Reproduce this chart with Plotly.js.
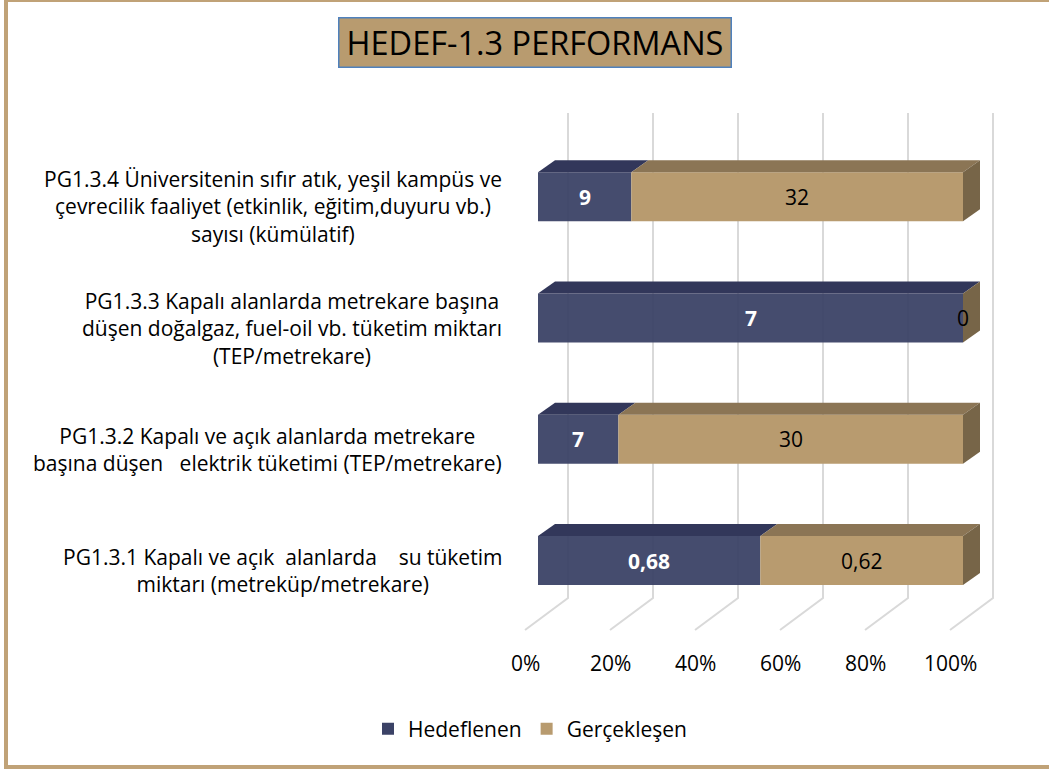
<!DOCTYPE html>
<html><head><meta charset="utf-8">
<script src="https://cdn.plot.ly/plotly-3.0.1.min.js"></script>
<style>html,body{margin:0;padding:0;background:#fff}#chart{width:1049px;height:771px}</style>
</head><body><div id="chart"></div>
<script>
const categories = [
  "PG1.3.1 Kapalı ve açık\u00a0 alanlarda\u00a0\u00a0\u00a0 su tüketim<br>miktarı (metreküp/metrekare)",
  "PG1.3.2 Kapalı ve açık alanlarda metrekare<br>başına düşen\u00a0\u00a0 elektrik tüketimi (TEP/metrekare)",
  "PG1.3.3 Kapalı alanlarda metrekare başına<br>düşen doğalgaz, fuel-oil vb. tüketim miktarı<br>(TEP/metrekare)",
  "PG1.3.4 Üniversitenin sıfır atık, yeşil kampüs ve<br>çevrecilik faaliyet (etkinlik, eğitim,duyuru vb.)<br>sayısı (kümülatif)"
];
const hedeflenen = [0.68, 7, 7, 9];
const gerceklesen = [0.62, 30, 0, 32];
const tickLabels = ["0%", "20%", "40%", "60%", "80%", "100%"];
const tickValues = [0, 20, 40, 60, 80, 100];
const seriesNames = ["Hedeflenen", "Gerçekleşen"];
const titleText = "HEDEF-1.3 PERFORMANS";

const FONT = "'Open Sans', 'Noto Sans', sans-serif";
const FS = 21;
const navy = "#3B4266", navyTop = "#32375A";
const tan = "#B89B6F", tanTop = "#8B7555", tanSide = "#776548";

const W = 1049, H = 771;
const PL = 500, PR = 1040, PT = 100, PB = 640;
const X0 = 538, pxX = 4.25, Y0 = 560.5, pxY = 121.25;
const dX = px => (px - X0) / pxX;
const dY = py => (Y0 - py) / pxY;
const pX = px => (px - PL) / (PR - PL);
const pY = py => (PB - py) / (PB - PT);

const BW = 0.404;
const dxu = 17 / pxX, dyu = 12 / pxY;

const idx = categories.map((_, i) => i);
const totals = hedeflenen.map((v, i) => v + gerceklesen[i]);
const pctH = hedeflenen.map((v, i) => v / totals[i] * 100);
const pctG = gerceklesen.map((v, i) => v / totals[i] * 100);
const fmt = v => String(v).replace('.', ',');

const traces = [
  {type: 'bar', orientation: 'h', name: seriesNames[0], y: idx, x: pctH, width: BW,
   marker: {color: navy, opacity: 0.95}, hoverinfo: 'skip'},
  {type: 'bar', orientation: 'h', name: seriesNames[1], y: idx, x: pctG, base: pctH, width: BW,
   marker: {color: tan}, hoverinfo: 'skip'}
];

const shapes = [];
tickValues.forEach(v => {
  const xb = v + 30 / pxX, xf = v - 13 / pxX;
  shapes.push({type: 'path', layer: 'below', xref: 'x', yref: 'y',
    path: `M ${xb},${dY(113)} L ${xb},${dY(598)} L ${xf},${dY(630)}`,
    line: {color: '#D9D9D9', width: 2}});
});
idx.forEach(i => {
  const yt = i + BW / 2, yb = i - BW / 2;
  const segs = [[0, pctH[i], navyTop], [pctH[i], pctH[i] + pctG[i], tanTop]];
  segs.forEach(([a, b, c]) => {
    if (b - a <= 0) return;
    shapes.push({type: 'path', layer: 'above', xref: 'x', yref: 'y', line: {width: 0}, fillcolor: c,
      path: `M ${a},${yt} L ${b},${yt} L ${b + dxu},${yt + dyu} L ${a + dxu},${yt + dyu} Z`});
  });
  const e = pctH[i] + pctG[i];
  shapes.push({type: 'path', layer: 'above', xref: 'x', yref: 'y', line: {width: 0}, fillcolor: tanSide,
    path: `M ${e},${yb} L ${e},${yt} L ${e + dxu},${yt + dyu} L ${e + dxu},${yb + dyu} Z`});
});
shapes.push({type: 'rect', xref: 'paper', yref: 'paper', layer: 'above',
  x0: pX(6), x1: pX(1075), y0: pY(767), y1: pY(0),
  line: {color: '#C0A277', width: 4}, fillcolor: 'rgba(0,0,0,0)'});

const annotations = [];
idx.forEach(i => {
  annotations.push({xref: 'paper', yref: 'y', x: pX(504), y: i, yshift: -10,
    xanchor: 'right', yanchor: 'middle', align: 'center', showarrow: false,
    text: categories[i], font: {family: FONT, size: FS, color: '#000'}});
  annotations.push({xref: 'x', yref: 'y', x: pctH[i] / 2, y: i, showarrow: false,
    text: '<b>' + fmt(hedeflenen[i]) + '</b>', font: {family: FONT, size: FS, color: '#fff'}});
  annotations.push({xref: 'x', yref: 'y', x: pctH[i] + pctG[i] / 2, y: i, showarrow: false,
    text: fmt(gerceklesen[i]), font: {family: FONT, size: FS, color: '#000'}});
});
tickValues.forEach((v, k) => {
  annotations.push({xref: 'x', yref: 'paper', x: v - 13 / pxX, y: pY(663), showarrow: false,
    xanchor: 'center', yanchor: 'middle', text: tickLabels[k], font: {family: FONT, size: FS, color: '#000'}});
});
annotations.push({xref: 'paper', yref: 'paper', x: pX(534.5), y: pY(43),
  xanchor: 'center', yanchor: 'middle', showarrow: false, text: titleText,
  width: 391, height: 48, bgcolor: '#B89B6F', bordercolor: '#4F81BD', borderwidth: 1.5, borderpad: 0,
  font: {family: FONT, size: 32.5, color: '#000'}});

const layout = {
  width: W, height: H, margin: {l: PL, r: W - PR, t: PT, b: H - PB},
  paper_bgcolor: '#fff', plot_bgcolor: 'rgba(0,0,0,0)',
  barmode: 'overlay', showlegend: true,
  xaxis: {range: [dX(PL), dX(PR)], showgrid: false, zeroline: false, showticklabels: false, showline: false, fixedrange: true},
  yaxis: {range: [dY(PB), dY(PT)], showgrid: false, zeroline: false, showticklabels: false, showline: false, fixedrange: true},
  legend: {orientation: 'h', x: pX(530), xanchor: 'center', y: pY(729), yanchor: 'middle',
    font: {family: FONT, size: FS, color: '#000'}, itemwidth: 30, traceorder: 'normal'},
  shapes, annotations
};
Plotly.newPlot('chart', traces, layout, {staticPlot: true});
</script></body></html>
